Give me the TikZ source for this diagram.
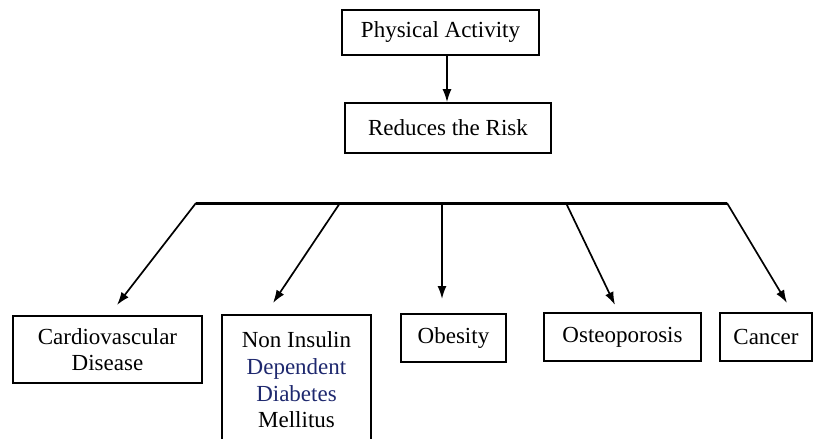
\documentclass[tikz,border=0pt]{standalone}
\usepackage{fontspec}
\setmainfont{Liberation Serif}
\usetikzlibrary{arrows.meta}
\definecolor{inkblue}{RGB}{30,40,110}
\begin{document}
\begin{tikzpicture}[x=1pt,y=-1pt,
  box/.style={draw, line width=1.6pt, inner sep=0pt, align=center,
    font=\fontsize{23}{26.7}\selectfont},
  link/.style={line width=1.7pt, -{Latex[length=13pt,width=9pt]}},
  bar/.style={line width=3pt}]
\useasboundingbox (0,0) rectangle (814,439);
\clip (0,0) rectangle (814,439);

% top of the chart
\node[box, minimum width=197pt, minimum height=45pt] (pa) at (440.5,32.5) {Physical Activity};
\node[box, minimum width=206pt, minimum height=50pt] (rr) at (448,128) {Reduces the Risk};
\draw[link] (pa.south -| 447,0) -- (rr.north -| 447,0);

% the five outcomes
\node[box, minimum width=189pt, minimum height=67pt] (cvd) at (107.5,349.5) {Cardiovascular\\Disease};
\node[box, minimum width=149pt, minimum height=130pt] (nidd) at (296.5,380)
  {Non Insulin\\\textcolor{inkblue}{Dependent}\\\textcolor{inkblue}{Diabetes}\\Mellitus};
\node[box, minimum width=105pt, minimum height=48pt] (ob) at (453.5,338) {Obesity};
\node[box, minimum width=157pt, minimum height=48pt] (os) at (622.5,337) {Osteoporosis};
\node[box, minimum width=92pt, minimum height=48pt] (ca) at (766,337) {Cancer};

% distribution bar and its branches
\coordinate (bl) at (196,203);
\coordinate (br) at (727,203);
\draw[bar] (bl) -- (br);
\coordinate (b2) at (340,203);
\coordinate (b3) at (442,203);
\coordinate (b4) at (566,203);
\coordinate (t1) at (117,305);
\coordinate (t2) at (273,303);
\coordinate (t3) at (442,299);
\coordinate (t4) at (615,305);
\coordinate (t5) at (787,303);
\draw[link] (bl) -- (t1);
\draw[link] (b2) -- (t2);
\draw[link] (b3) -- (t3);
\draw[link] (b4) -- (t4);
\draw[link] (br) -- (t5);
\end{tikzpicture}
\end{document}
